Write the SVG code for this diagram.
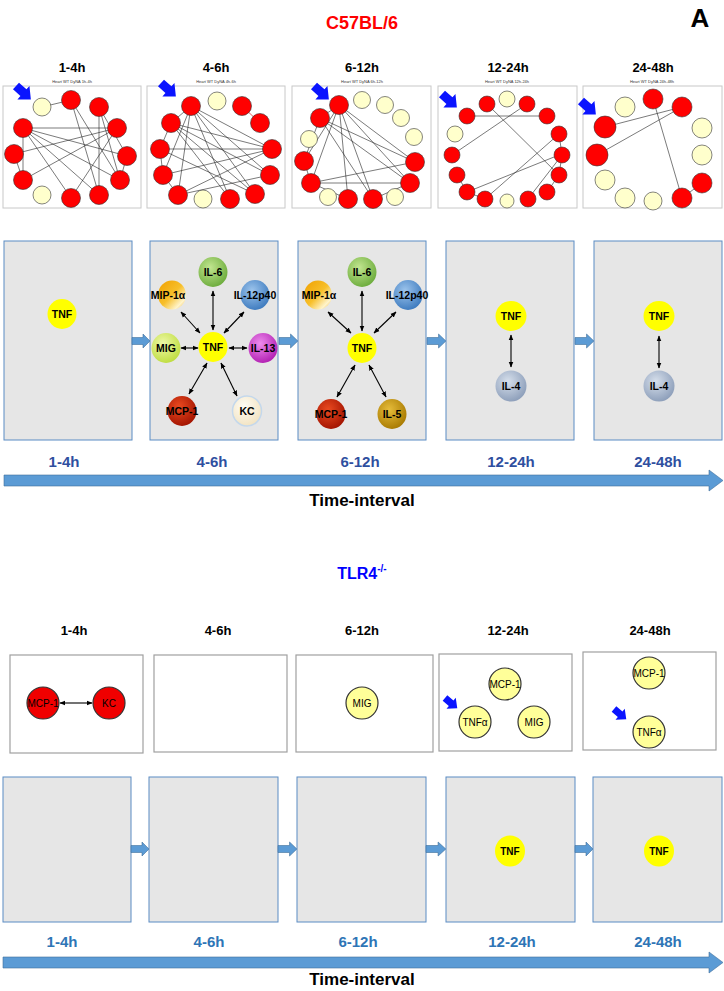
<svg xmlns="http://www.w3.org/2000/svg" width="724" height="991" viewBox="0 0 724 991">
<style>
.t{font-family:"Liberation Sans",Arial,sans-serif;font-weight:bold;text-anchor:middle}
.hdr{font-size:13px;fill:#000}
.tlA{font-size:15px;fill:#2f4f9f}
.tlB{font-size:15px;fill:#2e75b6}
.ti{font-size:17px;fill:#000}
.nl{font-size:10.5px;fill:#000}
.tt{font-family:"Liberation Sans",Arial,sans-serif;font-size:4px;fill:#333;text-anchor:middle}
.bl{font-family:"Liberation Sans",Arial,sans-serif;font-size:10px;fill:#000;text-anchor:middle}
.panel{fill:#e6e6e6;stroke:#5b8cc4;stroke-width:1}
.thumb{fill:#fff;stroke:#c8c8c8;stroke-width:1}
.thumbB{fill:#fff;stroke:#a0a0a0;stroke-width:1.2}
.rn{fill:#ff0000;stroke:#333;stroke-width:0.6}
.pn{fill:#ffffcc;stroke:#333;stroke-width:0.6}
.e{stroke:#222;stroke-width:0.6;fill:none}
.da{stroke:#000;stroke-width:1.1;fill:none;marker-start:url(#ah);marker-end:url(#ah)}
.barr{fill:#5b9bd5;stroke:#41719c;stroke-width:0.6}
.blue{fill:#0a14ff}
.rB{fill:#f00000;stroke:#333;stroke-width:1.2}
.pB{fill:#ffff99;stroke:#333;stroke-width:1.2}
</style>
<defs>
<marker id="ah" viewBox="0 0 10 10" refX="9" refY="5" markerUnits="userSpaceOnUse" markerWidth="6" markerHeight="6" orient="auto-start-reverse"><path d="M0,1 L10,5 L0,9 z" fill="#000"/></marker>
<path id="sm" d="M0,-3.5 L11,-3.5 L11,-7 L18,0 L11,7 L11,3.5 L0,3.5 Z"/>
<path id="bk" d="M0,-4.5 L10,-4.5 L10,-9 L20,0 L10,9 L10,4.5 L0,4.5 Z"/>
<radialGradient id="gIL6" cx="0.4" cy="0.35" r="0.7"><stop offset="0" stop-color="#c2e690"/><stop offset="1" stop-color="#6aaa3a"/></radialGradient>
<linearGradient id="gMIP" x1="0" y1="0" x2="1" y2="1"><stop offset="0" stop-color="#f0a000"/><stop offset="0.5" stop-color="#f7bf2a"/><stop offset="0.8" stop-color="#fff4cc"/><stop offset="1" stop-color="#f2b020"/></linearGradient>
<radialGradient id="gIL12" cx="0.4" cy="0.35" r="0.7"><stop offset="0" stop-color="#9cc4ec"/><stop offset="1" stop-color="#3a78bd"/></radialGradient>
<radialGradient id="gIL13" cx="0.4" cy="0.35" r="0.7"><stop offset="0" stop-color="#ee8cee"/><stop offset="1" stop-color="#b01cb0"/></radialGradient>
<radialGradient id="gMIG" cx="0.4" cy="0.35" r="0.7"><stop offset="0" stop-color="#eef8a8"/><stop offset="1" stop-color="#bddc3c"/></radialGradient>
<radialGradient id="gMCP" cx="0.4" cy="0.35" r="0.7"><stop offset="0" stop-color="#ea4a20"/><stop offset="1" stop-color="#a01200"/></radialGradient>
<radialGradient id="gKC" cx="0.4" cy="0.35" r="0.7"><stop offset="0" stop-color="#fffcf4"/><stop offset="1" stop-color="#f1e2c0"/></radialGradient>
<radialGradient id="gIL5" cx="0.4" cy="0.35" r="0.7"><stop offset="0" stop-color="#e6bc3a"/><stop offset="1" stop-color="#a67800"/></radialGradient>
<radialGradient id="gIL4" cx="0.4" cy="0.35" r="0.7"><stop offset="0" stop-color="#d6dfeb"/><stop offset="1" stop-color="#8a9cb8"/></radialGradient>
</defs>

<!-- Section A headers -->
<g id="headerA">
<text class="t" x="362" y="29" font-size="18" fill="#ff0000">C57BL/6</text>
<text class="t" x="700" y="27" font-size="26" fill="#000">A</text>
<text class="t hdr" x="72" y="72">1-4h</text>
<text class="t hdr" x="216" y="72">4-6h</text>
<text class="t hdr" x="362" y="72">6-12h</text>
<text class="t hdr" x="508" y="72">12-24h</text>
<text class="t hdr" x="653" y="72">24-48h</text>
</g>

<!-- Thumbnail 1 -->
<g id="thumbA1">
<text class="tt" x="72" y="83">Heart WT DyNA 1h-4h</text>
<rect class="thumb" x="3" y="86" width="138" height="122"/>
<g class="e">
<line x1="23" y1="128" x2="117" y2="128"/><line x1="23" y1="128" x2="127" y2="156"/><line x1="23" y1="128" x2="120" y2="180"/><line x1="23" y1="128" x2="71" y2="198"/><line x1="23" y1="128" x2="99" y2="195"/>
<line x1="14" y1="154" x2="117" y2="128"/><line x1="23" y1="180" x2="117" y2="128"/><line x1="71" y1="198" x2="117" y2="128"/>
<line x1="71" y1="100" x2="120" y2="180"/><line x1="71" y1="100" x2="99" y2="195"/><line x1="99" y1="107" x2="99" y2="195"/><line x1="99" y1="107" x2="120" y2="180"/><line x1="99" y1="107" x2="127" y2="156"/>
<line x1="23" y1="128" x2="23" y2="180"/><line x1="14" y1="154" x2="23" y2="180"/><line x1="42" y1="107" x2="71" y2="100"/><line x1="120" y1="180" x2="127" y2="156"/>
</g>
<circle class="pn" cx="42" cy="107" r="9"/><circle class="rn" cx="71" cy="100" r="9.5"/><circle class="rn" cx="99" cy="107" r="9.5"/><circle class="rn" cx="117" cy="128" r="9.5"/><circle class="rn" cx="127" cy="156" r="9.5"/><circle class="rn" cx="120" cy="180" r="9.5"/><circle class="rn" cx="99" cy="195" r="9.5"/><circle class="rn" cx="71" cy="198" r="9.5"/><circle class="pn" cx="42" cy="195" r="9"/><circle class="rn" cx="23" cy="180" r="9.5"/><circle class="rn" cx="14" cy="154" r="9.5"/><circle class="rn" cx="23" cy="128" r="9.5"/>
<use href="#bk" class="blue" transform="translate(16,86) rotate(42)"/>
</g>

<!-- Thumbnail 2 -->
<g id="thumbA2">
<text class="tt" x="216" y="83">Heart WT DyNA 4h-6h</text>
<rect class="thumb" x="147" y="86" width="138" height="122"/>
<g class="e">
<line x1="191" y1="106" x2="272" y2="149"/><line x1="191" y1="106" x2="270" y2="175"/><line x1="191" y1="106" x2="255" y2="194"/><line x1="191" y1="106" x2="230" y2="199"/><line x1="191" y1="106" x2="178" y2="195"/><line x1="191" y1="106" x2="163" y2="175"/><line x1="191" y1="106" x2="171" y2="123"/>
<line x1="171" y1="123" x2="272" y2="149"/><line x1="171" y1="123" x2="270" y2="175"/><line x1="171" y1="123" x2="255" y2="194"/><line x1="171" y1="123" x2="230" y2="199"/>
<line x1="160" y1="149" x2="272" y2="149"/><line x1="160" y1="149" x2="255" y2="194"/><line x1="163" y1="175" x2="272" y2="149"/><line x1="178" y1="195" x2="272" y2="149"/><line x1="178" y1="195" x2="270" y2="175"/>
<line x1="160" y1="149" x2="171" y2="123"/><line x1="163" y1="175" x2="178" y2="195"/><line x1="160" y1="149" x2="163" y2="175"/>
</g>
<line x1="242" y1="106" x2="260" y2="123" stroke="#e03030" stroke-width="0.8"/>
<circle class="rn" cx="191" cy="106" r="9.5"/><circle class="pn" cx="217" cy="101" r="9"/><circle class="rn" cx="242" cy="106" r="9.5"/><circle class="rn" cx="260" cy="123" r="9.5"/><circle class="rn" cx="171" cy="123" r="9.5"/><circle class="rn" cx="160" cy="149" r="9.5"/><circle class="rn" cx="272" cy="149" r="9.5"/><circle class="rn" cx="163" cy="175" r="9.5"/><circle class="rn" cx="270" cy="175" r="9.5"/><circle class="rn" cx="178" cy="195" r="9.5"/><circle class="rn" cx="255" cy="194" r="9.5"/><circle class="pn" cx="203" cy="199" r="9"/><circle class="rn" cx="230" cy="199" r="9.5"/>
<use href="#bk" class="blue" transform="translate(161,83) rotate(42)"/>
</g>

<!-- Thumbnail 3 -->
<g id="thumbA3">
<text class="tt" x="362" y="83">Heart WT DyNA 6h-12h</text>
<rect class="thumb" x="292" y="86" width="139" height="122"/>
<g class="e">
<line x1="339" y1="105" x2="415" y2="162"/><line x1="339" y1="105" x2="410" y2="183"/><line x1="339" y1="105" x2="348" y2="199"/><line x1="339" y1="105" x2="373" y2="199"/><line x1="339" y1="105" x2="304" y2="161"/><line x1="339" y1="105" x2="311" y2="183"/><line x1="339" y1="105" x2="320" y2="118"/>
<line x1="320" y1="118" x2="415" y2="162"/><line x1="320" y1="118" x2="410" y2="183"/><line x1="320" y1="118" x2="373" y2="199"/><line x1="320" y1="118" x2="304" y2="161"/>
<line x1="311" y1="183" x2="415" y2="162"/><line x1="311" y1="183" x2="410" y2="183"/><line x1="304" y1="161" x2="311" y2="183"/><line x1="311" y1="183" x2="348" y2="199"/><line x1="373" y1="199" x2="410" y2="183"/>
</g>
<circle class="rn" cx="339" cy="105" r="9.5"/><circle class="pn" cx="362" cy="100" r="8.5"/><circle class="pn" cx="385" cy="105" r="8.5"/><circle class="pn" cx="401" cy="118" r="8.5"/><circle class="pn" cx="414" cy="137" r="8.5"/><circle class="rn" cx="320" cy="118" r="9.5"/><circle class="pn" cx="309" cy="139" r="8.5"/><circle class="rn" cx="304" cy="161" r="9.5"/><circle class="rn" cx="415" cy="162" r="9.5"/><circle class="rn" cx="311" cy="183" r="9.5"/><circle class="rn" cx="410" cy="183" r="9.5"/><circle class="pn" cx="328" cy="197" r="8.5"/><circle class="rn" cx="348" cy="199" r="9.5"/><circle class="rn" cx="373" cy="199" r="9.5"/><circle class="pn" cx="395" cy="197" r="8.5"/>
<use href="#bk" class="blue" transform="translate(314,86) rotate(42)"/>
</g>

<!-- Thumbnail 4 -->
<g id="thumbA4">
<text class="tt" x="507" y="83">Heart WT DyNA 12h-24h</text>
<rect class="thumb" x="438" y="86" width="139" height="122"/>
<g class="e">
<line x1="467" y1="116" x2="547" y2="116"/><line x1="527" y1="104" x2="452" y2="155"/><line x1="487" y1="104" x2="559" y2="175"/><line x1="467" y1="192" x2="559" y2="155"/><line x1="485" y1="199" x2="559" y2="134"/><line x1="559" y1="134" x2="562" y2="155"/><line x1="562" y1="155" x2="559" y2="175"/><line x1="547" y1="192" x2="559" y2="175"/><line x1="467" y1="192" x2="457" y2="175"/><line x1="528" y1="199" x2="562" y2="155"/><line x1="467" y1="192" x2="485" y2="199"/>
</g>
<circle class="rn" cx="467" cy="116" r="8"/><circle class="rn" cx="487" cy="104" r="8"/><circle class="pn" cx="507" cy="99" r="8"/><circle class="rn" cx="527" cy="104" r="8"/><circle class="rn" cx="547" cy="116" r="8"/><circle class="pn" cx="455" cy="134" r="8"/><circle class="rn" cx="559" cy="134" r="8"/><circle class="rn" cx="452" cy="155" r="8"/><circle class="rn" cx="562" cy="155" r="8"/><circle class="rn" cx="457" cy="175" r="8"/><circle class="rn" cx="559" cy="175" r="8"/><circle class="rn" cx="467" cy="192" r="8"/><circle class="rn" cx="547" cy="192" r="8"/><circle class="rn" cx="485" cy="199" r="8"/><circle class="pn" cx="507" cy="201" r="7"/><circle class="rn" cx="528" cy="199" r="8"/>
<use href="#bk" class="blue" transform="translate(442,94) rotate(42)"/>
</g>

<!-- Thumbnail 5 -->
<g id="thumbA5">
<text class="tt" x="652" y="83">Heart WT DyNA 24h-48h</text>
<rect class="thumb" x="583" y="86" width="139" height="122"/>
<g class="e">
<line x1="605" y1="127" x2="682" y2="107"/><line x1="597" y1="155" x2="682" y2="107"/><line x1="653" y1="99" x2="682" y2="198"/><line x1="702" y1="183" x2="682" y2="198"/>
</g>
<circle class="rn" cx="605" cy="127" r="11"/><circle class="pn" cx="625" cy="107" r="10"/><circle class="rn" cx="653" cy="99" r="10"/><circle class="rn" cx="682" cy="107" r="10"/><circle class="pn" cx="702" cy="128" r="10"/><circle class="pn" cx="702" cy="155" r="10"/><circle class="rn" cx="702" cy="183" r="10"/><circle class="rn" cx="682" cy="198" r="10"/><circle class="pn" cx="653" cy="201" r="9"/><circle class="pn" cx="625" cy="198" r="10"/><circle class="pn" cx="605" cy="180" r="10"/><circle class="rn" cx="597" cy="155" r="11"/>
<use href="#bk" class="blue" transform="translate(581,101) rotate(42)"/>
</g>

<!-- Section A panels -->
<g id="panelA1">
<rect class="panel" x="4" y="241" width="128" height="199"/>
<ellipse cx="62" cy="314" rx="14.5" ry="15" fill="#ffff00"/>
<text class="t nl" x="62" y="318">TNF</text>
</g>

<g id="panelA2">
<rect class="panel" x="150" y="241" width="128" height="199"/>
<ellipse cx="213" cy="272" rx="14.5" ry="15" fill="url(#gIL6)"/><text class="t nl" x="213" y="276">IL-6</text>
<ellipse cx="172" cy="295" rx="14" ry="14.5" fill="url(#gMIP)"/><text class="t nl" x="168" y="299">MIP-1α</text>
<ellipse cx="255" cy="295" rx="14.5" ry="15" fill="url(#gIL12)"/><text class="t nl" x="255" y="299">IL-12p40</text>
<ellipse cx="166" cy="348" rx="14.5" ry="15" fill="url(#gMIG)"/><text class="t nl" x="166" y="352">MIG</text>
<ellipse cx="213" cy="347" rx="14.5" ry="15" fill="#ffff00"/><text class="t nl" x="213" y="351">TNF</text>
<ellipse cx="263" cy="348" rx="14.5" ry="15" fill="url(#gIL13)"/><text class="t nl" x="263" y="352">IL-13</text>
<ellipse cx="182" cy="411" rx="14.5" ry="15" fill="url(#gMCP)"/><text class="t nl" x="182" y="415">MCP-1</text>
<ellipse cx="247" cy="411" rx="14.5" ry="15" fill="url(#gKC)" stroke="#c4d8ec" stroke-width="1.5"/><text class="t nl" x="247" y="415">KC</text>
</g>

<g id="panelA3">
<rect class="panel" x="298" y="241" width="128" height="199"/>
<ellipse cx="362" cy="272" rx="14.5" ry="15" fill="url(#gIL6)"/><text class="t nl" x="362" y="276">IL-6</text>
<ellipse cx="318" cy="295" rx="14" ry="14.5" fill="url(#gMIP)"/><text class="t nl" x="319" y="299">MIP-1α</text>
<ellipse cx="408" cy="295" rx="14.5" ry="15" fill="url(#gIL12)"/><text class="t nl" x="407" y="299">IL-12p40</text>
<ellipse cx="362" cy="348" rx="14.5" ry="15" fill="#ffff00"/><text class="t nl" x="362" y="352">TNF</text>
<ellipse cx="331" cy="414" rx="14.5" ry="15" fill="url(#gMCP)"/><text class="t nl" x="331" y="418">MCP-1</text>
<ellipse cx="392" cy="414" rx="14.5" ry="15" fill="url(#gIL5)"/><text class="t nl" x="392" y="418">IL-5</text>
</g>

<g id="panelA4">
<rect class="panel" x="446" y="241" width="128" height="199"/>
<ellipse cx="511" cy="316" rx="15.5" ry="15" fill="#ffff00"/><text class="t nl" x="511" y="320">TNF</text>
<ellipse cx="511" cy="386" rx="15.5" ry="15.5" fill="url(#gIL4)"/><text class="t nl" x="511" y="390">IL-4</text>
</g>

<g id="panelA5">
<rect class="panel" x="594" y="241" width="128" height="199"/>
<ellipse cx="659" cy="316" rx="15.5" ry="15" fill="#ffff00"/><text class="t nl" x="659" y="320">TNF</text>
<ellipse cx="659" cy="386" rx="15.5" ry="15.5" fill="url(#gIL4)"/><text class="t nl" x="659" y="390">IL-4</text>
</g>

<g id="connectorsA">
<line class="da" x1="213" y1="291" x2="213" y2="330"/>
<line class="da" x1="181" y1="312" x2="200" y2="333"/>
<line class="da" x1="244" y1="312" x2="224" y2="333"/>
<line class="da" x1="181" y1="348" x2="198" y2="348"/>
<line class="da" x1="229" y1="348" x2="247" y2="348"/>
<line class="da" x1="207" y1="363" x2="189" y2="394"/>
<line class="da" x1="221" y1="363" x2="237" y2="396"/>
<line class="da" x1="362" y1="291" x2="362" y2="331"/>
<line class="da" x1="328" y1="312" x2="351" y2="333"/>
<line class="da" x1="396" y1="312" x2="374" y2="333"/>
<line class="da" x1="355" y1="365" x2="337" y2="397"/>
<line class="da" x1="369" y1="365" x2="386" y2="397"/>
<line class="da" x1="511" y1="335" x2="511" y2="367"/>
<line class="da" x1="659" y1="336" x2="659" y2="368"/>
<use href="#sm" class="barr" transform="translate(132,341)"/>
<use href="#sm" class="barr" transform="translate(279,341) scale(1.05,1)"/>
<use href="#sm" class="barr" transform="translate(427,341) scale(1.05,1)"/>
<use href="#sm" class="barr" transform="translate(575,341) scale(1.05,1)"/>
</g>

<g id="timelineA">
<text class="t tlA" x="64" y="467">1-4h</text>
<text class="t tlA" x="212" y="467">4-6h</text>
<text class="t tlA" x="360" y="467">6-12h</text>
<text class="t tlA" x="511" y="467">12-24h</text>
<text class="t tlA" x="658" y="467">24-48h</text>
<path class="barr" d="M4,475 L709,475 L709,470 L723,480.5 L709,491 L709,486 L4,486 Z"/>
<text class="t ti" x="362" y="506">Time-interval</text>
</g>

<!-- Section B -->
<g id="headerB">
<text class="t" x="700" y="723" font-size="26" fill="#000">B</text>
<text class="t" x="362" y="579" font-size="16" fill="#0000ff">TLR4<tspan font-size="10" dy="-7">-/-</tspan></text>
<text class="t hdr" x="74" y="635">1-4h</text>
<text class="t hdr" x="218" y="635">4-6h</text>
<text class="t hdr" x="362" y="635">6-12h</text>
<text class="t hdr" x="508" y="635">12-24h</text>
<text class="t hdr" x="650" y="635">24-48h</text>
</g>

<g id="thumbB1">
<rect class="thumbB" x="10" y="655" width="133" height="98"/>
<ellipse class="rB" cx="43" cy="703" rx="16" ry="16"/>
<ellipse class="rB" cx="109" cy="703" rx="16" ry="16"/>
<line class="da" x1="60" y1="703" x2="92" y2="703" stroke-width="0.9"/>
<text class="bl" x="43" y="707">MCP-1</text>
<text class="bl" x="109" y="707">KC</text>
</g>
<g id="thumbB2">
<rect class="thumbB" x="154" y="655" width="133" height="97"/>
</g>
<g id="thumbB3">
<rect class="thumbB" x="296" y="655" width="137" height="97"/>
<ellipse class="pB" cx="362" cy="703" rx="16" ry="16"/>
<text class="bl" x="362" y="707">MIG</text>
</g>
<g id="thumbB4">
<rect class="thumbB" x="439" y="654" width="133" height="97"/>
<ellipse class="pB" cx="505" cy="684" rx="16" ry="16"/><text class="bl" x="505" y="688">MCP-1</text>
<ellipse class="pB" cx="475" cy="722" rx="16" ry="16"/><text class="bl" x="475" y="726">TNFα</text>
<ellipse class="pB" cx="534" cy="722" rx="16" ry="16"/><text class="bl" x="534" y="726">MIG</text>
<use href="#bk" class="blue" transform="translate(445,698) rotate(40) scale(0.8)"/>
</g>
<g id="thumbB5">
<rect class="thumbB" x="583" y="652" width="133" height="98"/>
<ellipse class="pB" cx="649" cy="673" rx="16" ry="16"/><text class="bl" x="649" y="677">MCP-1</text>
<ellipse class="pB" cx="649" cy="732" rx="16" ry="16"/><text class="bl" x="649" y="736">TNFα</text>
<use href="#bk" class="blue" transform="translate(614,709) rotate(40) scale(0.8)"/>
</g>

<g id="panelB1"><rect class="panel" x="3" y="777" width="128" height="145"/></g>
<g id="panelB2"><rect class="panel" x="149" y="777" width="129" height="145"/></g>
<g id="panelB3"><rect class="panel" x="297" y="777" width="129" height="145"/></g>
<g id="panelB4"><rect class="panel" x="446" y="777" width="129" height="145"/>
<ellipse cx="510" cy="851" rx="15" ry="15.5" fill="#ffff00"/><text class="t" x="510" y="855" font-size="10" fill="#000">TNF</text></g>
<g id="panelB5"><rect class="panel" x="593" y="777" width="129" height="145"/>
<ellipse cx="659" cy="851" rx="15" ry="15.5" fill="#ffff00"/><text class="t" x="659" y="855" font-size="10" fill="#000">TNF</text></g>

<g id="connectorsB">
<use href="#sm" class="barr" transform="translate(131,849)"/>
<use href="#sm" class="barr" transform="translate(278,849) scale(1.05,1)"/>
<use href="#sm" class="barr" transform="translate(426,849) scale(1.1,1)"/>
<use href="#sm" class="barr" transform="translate(575,849) scale(1.0,1)"/>
</g>

<g id="timelineB">
<text class="t tlB" x="62" y="947">1-4h</text>
<text class="t tlB" x="209" y="947">4-6h</text>
<text class="t tlB" x="358" y="947">6-12h</text>
<text class="t tlB" x="512" y="947">12-24h</text>
<text class="t tlB" x="658" y="947">24-48h</text>
<path class="barr" d="M3,957 L709,957 L709,952 L723,962.5 L709,973 L709,968 L3,968 Z"/>
<text class="t ti" x="362" y="985">Time-interval</text>
</g>
</svg>
